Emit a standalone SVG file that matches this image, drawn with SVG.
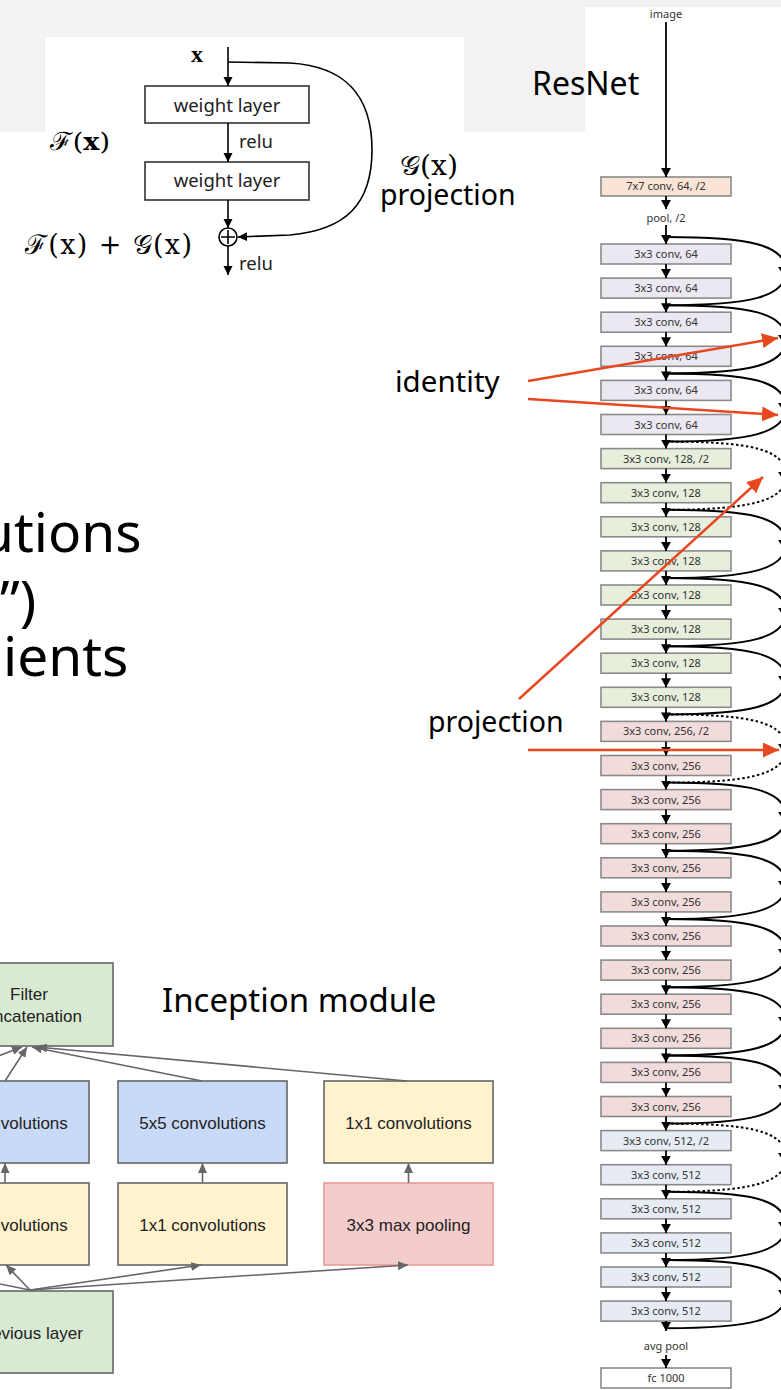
<svg xmlns="http://www.w3.org/2000/svg" width="781" height="1390" viewBox="0 0 781 1390">
<style>
.slide{font-family:"Noto Sans","Open Sans",sans-serif;fill:#000}
.math{font-family:"DejaVu Serif","Liberation Serif",serif;fill:#000}
.wl{fill:#fff;stroke:#333;stroke-width:1.6}
.wlt{font-family:"Noto Sans","Open Sans",sans-serif;font-size:18.5px;fill:#222}
.blk{stroke:#000;stroke-width:1.6;fill:none}
.rb{stroke:#8a8a8a;stroke-width:1.6}
.rt{font-family:"Noto Sans","Open Sans",sans-serif;font-size:11px;fill:#333;text-anchor:middle}
.c64{fill:#ebe8f2}.c128{fill:#e7efdc}.c256{fill:#f2dcdb}.c512{fill:#e6ebf4}.c7{fill:#fbe4d5}.cfc{fill:#fff}
.ra{stroke:#000;stroke-width:1.8;fill:none}
.sk{stroke:#000;stroke-width:2;fill:none}
.skd{stroke:#000;stroke-width:2;fill:none;stroke-dasharray:2.5 2.5}
.red{stroke:#e8481f;stroke-width:2.5;fill:none}
.ib{stroke:#666;stroke-width:1.6}
.it{font-family:"Liberation Sans",Arial,sans-serif;font-size:17px;fill:#222;text-anchor:middle}
.ia{stroke:#666;stroke-width:1.6;fill:none}
</style>
<defs>
<marker id="ah" markerUnits="userSpaceOnUse" markerWidth="10" markerHeight="10" refX="9" refY="4.5" orient="auto"><path d="M0,0 L9,4.5 L0,9 z" fill="#000"/></marker>
<marker id="ahs" markerUnits="userSpaceOnUse" markerWidth="12" markerHeight="12" refX="9" refY="5" orient="auto"><path d="M0,0 L9,5 L0,10 z" fill="#000"/></marker>
<marker id="ahr" markerUnits="userSpaceOnUse" markerWidth="18" markerHeight="16" refX="16" refY="7.5" orient="auto"><path d="M0,0 L16,7.5 L0,15 z" fill="#e8481f"/></marker>
<marker id="ahg" markerUnits="userSpaceOnUse" markerWidth="12" markerHeight="12" refX="10" refY="4.5" orient="auto"><path d="M0,0 L10,4.5 L0,9 z" fill="#666"/></marker>
</defs>
<rect x="0" y="0" width="781" height="1390" fill="#fff"/>
<rect x="0" y="0" width="585" height="132" fill="#f2f2f2"/>
<rect x="585" y="0" width="196" height="7" fill="#f2f2f2"/>
<rect x="45" y="37" width="419" height="100" fill="#fff"/>

<!-- Left slide text -->
<g id="slide-text">
<text class="slide" x="-20" y="552" font-size="55">utions</text>
<text class="slide" x="0" y="620" font-size="55">”)</text>
<text class="slide" x="3" y="676" font-size="55">ients</text>
<text class="slide" x="532" y="95" font-size="32">ResNet</text>
<text class="slide" x="395" y="392" font-size="29.5">identity</text>
<text class="slide" x="428" y="732" font-size="28.5">projection</text>
<text class="slide" x="162" y="1012" font-size="33">Inception module</text>
</g>

<!-- Residual block -->
<g id="residual-block">
<text x="197" y="62" font-family="Liberation Serif,serif" font-weight="bold" font-size="24" text-anchor="middle">x</text>
<g id="wl1"><rect class="wl" x="145" y="86" width="164" height="37"/><text class="wlt" x="227" y="112" text-anchor="middle">weight layer</text></g>
<g id="wl2"><rect class="wl" x="145" y="162" width="164" height="38"/><text class="wlt" x="227" y="187" text-anchor="middle">weight layer</text></g>
<text class="wlt" x="239" y="148">relu</text>
<text class="wlt" x="239" y="270">relu</text>
<g id="sum"><circle cx="228" cy="237" r="9" fill="#fff" stroke="#000" stroke-width="1.6"/><path d="M228,230 V244 M221,237 H235" stroke="#000" stroke-width="1.6"/></g>
<text class="math" x="50" y="150" font-size="25" textLength="60" lengthAdjust="spacingAndGlyphs">ℱ(<tspan font-weight="bold">x</tspan>)</text>
<text class="math" x="25" y="254" font-size="27" textLength="167" lengthAdjust="spacing">ℱ(x) + 𝒢(x)</text>
<text class="math" x="400" y="175" font-size="27" textLength="58" lengthAdjust="spacingAndGlyphs">𝒢(x)</text>
<text class="slide" x="380" y="205" font-size="28.5">projection</text>
</g>

<g id="residual-connectors">
<line class="blk" x1="228" y1="47" x2="228" y2="86" marker-end="url(#ah)"/>
<line class="blk" x1="228" y1="123" x2="228" y2="162" marker-end="url(#ah)"/>
<line class="blk" x1="228" y1="200" x2="228" y2="228" marker-end="url(#ah)"/>
<line class="blk" x1="228" y1="246" x2="228" y2="275" marker-end="url(#ah)"/>
<path class="blk" d="M228,62 L290,63 C340,66 372,90 372,150 C372,205 345,230 290,235 L238,237" marker-end="url(#ah)"/>
</g>

<!-- ResNet column -->
<g id="resnet-nodes">
<text class="rt" x="666" y="18" font-size="10">image</text>
<g id="r7"><rect class="rb c7" x="601" y="177" width="130" height="19"/><text class="rt" x="666" y="190" font-size="10">7x7 conv, 64, /2</text></g>
<text class="rt" x="666" y="222" font-size="10.5">pool, /2</text>
<g id="b0"><rect class="rb c64" x="601" y="244" width="130" height="20"/><text class="rt" x="666" y="258">3x3 conv, 64</text></g>
<g id="b1"><rect class="rb c64" x="601" y="278.1" width="130" height="20"/><text class="rt" x="666" y="292.1">3x3 conv, 64</text></g>
<g id="b2"><rect class="rb c64" x="601" y="312.2" width="130" height="20"/><text class="rt" x="666" y="326.2">3x3 conv, 64</text></g>
<g id="b3"><rect class="rb c64" x="601" y="346.3" width="130" height="20"/><text class="rt" x="666" y="360.3">3x3 conv, 64</text></g>
<g id="b4"><rect class="rb c64" x="601" y="380.4" width="130" height="20"/><text class="rt" x="666" y="394.4">3x3 conv, 64</text></g>
<g id="b5"><rect class="rb c64" x="601" y="414.5" width="130" height="20"/><text class="rt" x="666" y="428.5">3x3 conv, 64</text></g>
<g id="b6"><rect class="rb c128" x="601" y="448.6" width="130" height="20"/><text class="rt" x="666" y="462.6">3x3 conv, 128, /2</text></g>
<g id="b7"><rect class="rb c128" x="601" y="482.7" width="130" height="20"/><text class="rt" x="666" y="496.7">3x3 conv, 128</text></g>
<g id="b8"><rect class="rb c128" x="601" y="516.8" width="130" height="20"/><text class="rt" x="666" y="530.8">3x3 conv, 128</text></g>
<g id="b9"><rect class="rb c128" x="601" y="550.9" width="130" height="20"/><text class="rt" x="666" y="564.9">3x3 conv, 128</text></g>
<g id="b10"><rect class="rb c128" x="601" y="585" width="130" height="20"/><text class="rt" x="666" y="599">3x3 conv, 128</text></g>
<g id="b11"><rect class="rb c128" x="601" y="619.1" width="130" height="20"/><text class="rt" x="666" y="633.1">3x3 conv, 128</text></g>
<g id="b12"><rect class="rb c128" x="601" y="653.2" width="130" height="20"/><text class="rt" x="666" y="667.2">3x3 conv, 128</text></g>
<g id="b13"><rect class="rb c128" x="601" y="687.3" width="130" height="20"/><text class="rt" x="666" y="701.3">3x3 conv, 128</text></g>
<g id="b14"><rect class="rb c256" x="601" y="721.4" width="130" height="20"/><text class="rt" x="666" y="735.4">3x3 conv, 256, /2</text></g>
<g id="b15"><rect class="rb c256" x="601" y="755.5" width="130" height="20"/><text class="rt" x="666" y="769.5">3x3 conv, 256</text></g>
<g id="b16"><rect class="rb c256" x="601" y="789.6" width="130" height="20"/><text class="rt" x="666" y="803.6">3x3 conv, 256</text></g>
<g id="b17"><rect class="rb c256" x="601" y="823.7" width="130" height="20"/><text class="rt" x="666" y="837.7">3x3 conv, 256</text></g>
<g id="b18"><rect class="rb c256" x="601" y="857.8" width="130" height="20"/><text class="rt" x="666" y="871.8">3x3 conv, 256</text></g>
<g id="b19"><rect class="rb c256" x="601" y="891.9" width="130" height="20"/><text class="rt" x="666" y="905.9">3x3 conv, 256</text></g>
<g id="b20"><rect class="rb c256" x="601" y="926" width="130" height="20"/><text class="rt" x="666" y="940">3x3 conv, 256</text></g>
<g id="b21"><rect class="rb c256" x="601" y="960.1" width="130" height="20"/><text class="rt" x="666" y="974.1">3x3 conv, 256</text></g>
<g id="b22"><rect class="rb c256" x="601" y="994.2" width="130" height="20"/><text class="rt" x="666" y="1008.2">3x3 conv, 256</text></g>
<g id="b23"><rect class="rb c256" x="601" y="1028.3" width="130" height="20"/><text class="rt" x="666" y="1042.3">3x3 conv, 256</text></g>
<g id="b24"><rect class="rb c256" x="601" y="1062.4" width="130" height="20"/><text class="rt" x="666" y="1076.4">3x3 conv, 256</text></g>
<g id="b25"><rect class="rb c256" x="601" y="1096.5" width="130" height="20"/><text class="rt" x="666" y="1110.5">3x3 conv, 256</text></g>
<g id="b26"><rect class="rb c512" x="601" y="1130.6" width="130" height="20"/><text class="rt" x="666" y="1144.6">3x3 conv, 512, /2</text></g>
<g id="b27"><rect class="rb c512" x="601" y="1164.7" width="130" height="20"/><text class="rt" x="666" y="1178.7">3x3 conv, 512</text></g>
<g id="b28"><rect class="rb c512" x="601" y="1198.8" width="130" height="20"/><text class="rt" x="666" y="1212.8">3x3 conv, 512</text></g>
<g id="b29"><rect class="rb c512" x="601" y="1232.9" width="130" height="20"/><text class="rt" x="666" y="1246.9">3x3 conv, 512</text></g>
<g id="b30"><rect class="rb c512" x="601" y="1267" width="130" height="20"/><text class="rt" x="666" y="1281">3x3 conv, 512</text></g>
<g id="b31"><rect class="rb c512" x="601" y="1301.1" width="130" height="20"/><text class="rt" x="666" y="1315.1">3x3 conv, 512</text></g>
<text class="rt" x="666" y="1350" font-size="10.5">avg pool</text>
<g id="fc"><rect class="rb cfc" x="601" y="1368" width="130" height="20"/><text class="rt" x="666" y="1382">fc 1000</text></g>
</g>

<g id="resnet-connectors">
<line class="ra" x1="666" y1="22" x2="666" y2="177" marker-end="url(#ahs)"/>
<line class="ra" x1="666" y1="196" x2="666" y2="209" marker-end="url(#ahs)"/>
<line class="ra" x1="666" y1="225" x2="666" y2="244" marker-end="url(#ahs)"/>
<path class="ra" marker-end="url(#ahs)" d="M666,264 V278.1"/>
<path class="ra" marker-end="url(#ahs)" d="M666,298.1 V312.2"/>
<path class="ra" marker-end="url(#ahs)" d="M666,332.2 V346.3"/>
<path class="ra" marker-end="url(#ahs)" d="M666,366.3 V380.4"/>
<path class="ra" marker-end="url(#ahs)" d="M666,400.4 V414.5"/>
<path class="ra" marker-end="url(#ahs)" d="M666,434.5 V448.6"/>
<path class="ra" marker-end="url(#ahs)" d="M666,468.6 V482.7"/>
<path class="ra" marker-end="url(#ahs)" d="M666,502.7 V516.8"/>
<path class="ra" marker-end="url(#ahs)" d="M666,536.8 V550.9"/>
<path class="ra" marker-end="url(#ahs)" d="M666,570.9 V585"/>
<path class="ra" marker-end="url(#ahs)" d="M666,605 V619.1"/>
<path class="ra" marker-end="url(#ahs)" d="M666,639.1 V653.2"/>
<path class="ra" marker-end="url(#ahs)" d="M666,673.2 V687.3"/>
<path class="ra" marker-end="url(#ahs)" d="M666,707.3 V721.4"/>
<path class="ra" marker-end="url(#ahs)" d="M666,741.4 V755.5"/>
<path class="ra" marker-end="url(#ahs)" d="M666,775.5 V789.6"/>
<path class="ra" marker-end="url(#ahs)" d="M666,809.6 V823.7"/>
<path class="ra" marker-end="url(#ahs)" d="M666,843.7 V857.8"/>
<path class="ra" marker-end="url(#ahs)" d="M666,877.8 V891.9"/>
<path class="ra" marker-end="url(#ahs)" d="M666,911.9 V926"/>
<path class="ra" marker-end="url(#ahs)" d="M666,946 V960.1"/>
<path class="ra" marker-end="url(#ahs)" d="M666,980.1 V994.2"/>
<path class="ra" marker-end="url(#ahs)" d="M666,1014.2 V1028.3"/>
<path class="ra" marker-end="url(#ahs)" d="M666,1048.3 V1062.4"/>
<path class="ra" marker-end="url(#ahs)" d="M666,1082.4 V1096.5"/>
<path class="ra" marker-end="url(#ahs)" d="M666,1116.5 V1130.6"/>
<path class="ra" marker-end="url(#ahs)" d="M666,1150.6 V1164.7"/>
<path class="ra" marker-end="url(#ahs)" d="M666,1184.7 V1198.8"/>
<path class="ra" marker-end="url(#ahs)" d="M666,1218.8 V1232.9"/>
<path class="ra" marker-end="url(#ahs)" d="M666,1252.9 V1267"/>
<path class="ra" marker-end="url(#ahs)" d="M666,1287 V1301.1"/>
<path class="ra" marker-end="url(#ahs)" d="M666,1321.1 V1331"/>
<path class="ra" marker-end="url(#ahs)" d="M666,1355 V1368"/>
<!-- shortcuts -->
<path class="sk" d="M666,237 C750,237 786,245 786,271.1 C786,297 750,305.2 666,305.2"/>
<path class="sk" d="M666,305.2 C750,305.2 786,313 786,339.3 C786,365 750,373.4 666,373.4"/>
<path class="sk" d="M666,373.4 C750,373.4 786,381 786,407.5 C786,433 750,441.6 666,441.6"/>
<path class="skd" d="M666,441.6 C750,441.6 786,449 786,475.7 C786,501 750,509.8 666,509.8"/>
<path class="sk" d="M666,509.8 C750,509.8 786,517 786,543.9 C786,569 750,578 666,578"/>
<path class="sk" d="M666,578 C750,578 786,586 786,612.1 C786,638 750,646.2 666,646.2"/>
<path class="sk" d="M666,646.2 C750,646.2 786,654 786,680.3 C786,706 750,714.4 666,714.4"/>
<path class="skd" d="M666,714.4 C750,714.4 786,722 786,748.5 C786,774 750,782.6 666,782.6"/>
<path class="sk" d="M666,782.6 C750,782.6 786,790 786,816.7 C786,842 750,850.8 666,850.8"/>
<path class="sk" d="M666,850.8 C750,850.8 786,858 786,884.9 C786,910 750,919 666,919"/>
<path class="sk" d="M666,919 C750,919 786,927 786,953.1 C786,979 750,987.2 666,987.2"/>
<path class="sk" d="M666,987.2 C750,987.2 786,995 786,1021.3 C786,1047 750,1055.4 666,1055.4"/>
<path class="sk" d="M666,1055.4 C750,1055.4 786,1063 786,1089.5 C786,1115 750,1123.6 666,1123.6"/>
<path class="skd" d="M666,1123.6 C750,1123.6 786,1131 786,1157.7 C786,1183 750,1191.8 666,1191.8"/>
<path class="sk" d="M666,1191.8 C750,1191.8 786,1199 786,1225.9 C786,1251 750,1260 666,1260"/>
<path class="sk" d="M666,1260 C750,1260 786,1268 786,1294.1 C786,1320 750,1328.2 666,1328.2"/>
<!-- mid-arc arrowheads (mostly clipped at the edge) -->
<g fill="#000">
<path d="M778,267 L790,267 L784,276 z"/>
<path d="M778,335 L790,335 L784,344 z"/>
<path d="M778,403 L790,403 L784,412 z"/>
<path d="M778,472 L790,472 L784,481 z"/>
<path d="M778,540 L790,540 L784,549 z"/>
<path d="M778,608 L790,608 L784,617 z"/>
<path d="M778,676 L790,676 L784,685 z"/>
<path d="M778,744 L790,744 L784,753 z"/>
<path d="M778,812 L790,812 L784,821 z"/>
<path d="M778,881 L790,881 L784,890 z"/>
<path d="M778,949 L790,949 L784,958 z"/>
<path d="M778,1017 L790,1017 L784,1026 z"/>
<path d="M778,1085 L790,1085 L784,1094 z"/>
<path d="M778,1153 L790,1153 L784,1162 z"/>
<path d="M778,1222 L790,1222 L784,1231 z"/>
<path d="M778,1290 L790,1290 L784,1299 z"/>
</g>
</g>

<!-- Inception module -->
<g id="inception-nodes">
<g id="filter-concat"><rect class="ib" x="-60" y="963" width="173" height="83" fill="#d9ead3"/><text class="it" x="29" y="1000">Filter</text><text class="it" x="29" y="1022">concatenation</text></g>
<g id="conv3x3"><rect class="ib" x="-80" y="1081" width="169" height="82" fill="#c9daf8"/><text class="it" x="4.5" y="1129">3x3 convolutions</text></g>
<g id="conv5x5"><rect class="ib" x="118" y="1081" width="169" height="82" fill="#c9daf8"/><text class="it" x="202.5" y="1129">5x5 convolutions</text></g>
<g id="conv1x1-a"><rect class="ib" x="324" y="1081" width="169" height="82" fill="#fff2cc"/><text class="it" x="408.5" y="1129">1x1 convolutions</text></g>
<g id="conv1x1-b"><rect class="ib" x="-80" y="1183" width="169" height="82" fill="#fff2cc"/><text class="it" x="4.5" y="1231">1x1 convolutions</text></g>
<g id="conv1x1-c"><rect class="ib" x="118" y="1183" width="169" height="82" fill="#fff2cc"/><text class="it" x="202.5" y="1231">1x1 convolutions</text></g>
<g id="maxpool"><rect x="324" y="1183" width="169" height="82" fill="#f4cccc" stroke="#e99a9a" stroke-width="1.6"/><text class="it" x="408.5" y="1231">3x3 max pooling</text></g>
<g id="prev-layer"><rect class="ib" x="-60" y="1291" width="173" height="82" fill="#d9ead3"/><text class="it" x="29" y="1339">Previous layer</text></g>
</g>

<g id="inception-connectors">
<line class="ia" x1="30" y1="1290" x2="-95" y2="1265"/>
<line class="ia" x1="30" y1="1290" x2="6" y2="1265" marker-end="url(#ahg)"/>
<line class="ia" x1="30" y1="1290" x2="201" y2="1265" marker-end="url(#ahg)"/>
<line class="ia" x1="30" y1="1290" x2="408" y2="1265" marker-end="url(#ahg)"/>
<line class="ia" x1="5" y1="1183" x2="5" y2="1163" marker-end="url(#ahg)"/>
<line class="ia" x1="202.5" y1="1183" x2="202.5" y2="1163" marker-end="url(#ahg)"/>
<line class="ia" x1="408.5" y1="1183" x2="408.5" y2="1163" marker-end="url(#ahg)"/>
<line class="ia" x1="-67" y1="1081" x2="22" y2="1047" marker-end="url(#ahg)"/>
<line class="ia" x1="5" y1="1081" x2="27" y2="1047" marker-end="url(#ahg)"/>
<line class="ia" x1="202" y1="1081" x2="32" y2="1047" marker-end="url(#ahg)"/>
<line class="ia" x1="407" y1="1081" x2="37" y2="1047" marker-end="url(#ahg)"/>
</g>

<!-- Red annotation arrows -->
<g id="annotation-arrows">
<line class="red" x1="528" y1="381" x2="778" y2="338" marker-end="url(#ahr)"/>
<line class="red" x1="528" y1="399" x2="778" y2="415" marker-end="url(#ahr)"/>
<line class="red" x1="519" y1="699" x2="763" y2="477" marker-end="url(#ahr)"/>
<line class="red" x1="528" y1="750" x2="779" y2="750" marker-end="url(#ahr)"/>
</g>
</svg>
